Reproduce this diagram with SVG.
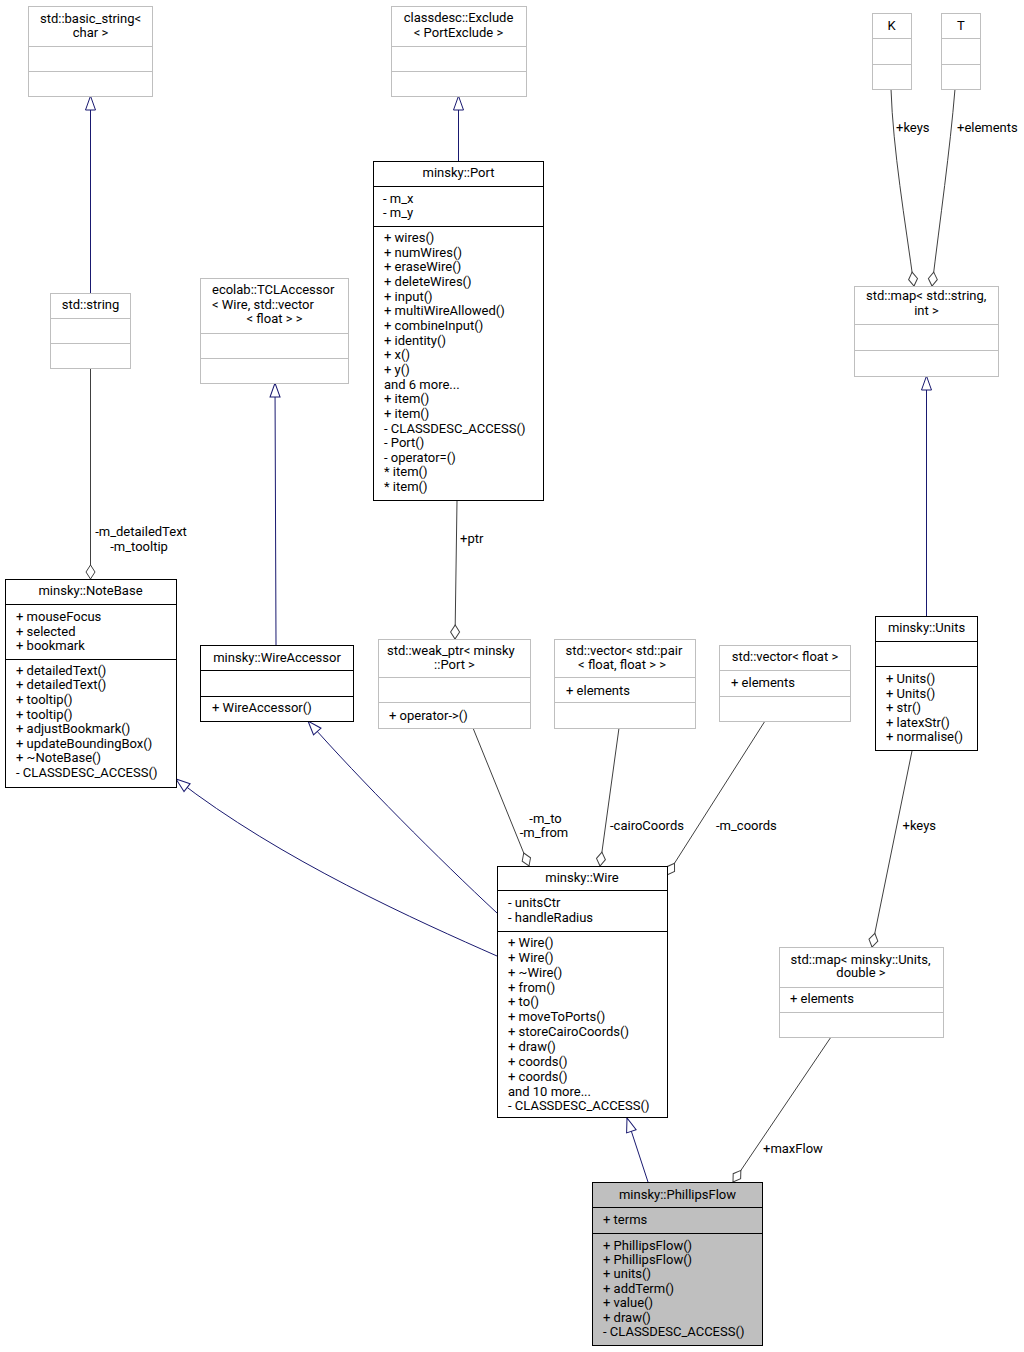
<svg xmlns="http://www.w3.org/2000/svg" width="1024" height="1352" viewBox="0 0 1024 1352">
<style>
text{font-family:Roboto,"Liberation Sans",sans-serif;font-size:13px;fill:#000}
.m{text-anchor:middle}
.g rect,.g line{fill:#fff;stroke:#bfbfbf;stroke-width:1}
.b rect,.b line{fill:#fff;stroke:#000;stroke-width:1}
.b rect.h{fill:#bfbfbf}
.inh{fill:none;stroke:#191970;stroke-width:1;marker-end:url(#tri)}
.agg{fill:none;stroke:#404040;stroke-width:1;marker-end:url(#dia)}
</style>
<defs>
<marker id="tri" markerUnits="userSpaceOnUse" markerWidth="16" markerHeight="11" refX="15" refY="5" orient="auto" overflow="visible"><path d="M1,0 L15,5 L1,10 Z" fill="#fff" stroke="#191970" stroke-width="1"/></marker>
<marker id="dia" markerUnits="userSpaceOnUse" markerWidth="16" markerHeight="11" refX="15" refY="5" orient="auto" overflow="visible"><path d="M1,5 L8,0.5 L15,5 L8,9.5 Z" fill="#fff" stroke="#404040" stroke-width="1"/></marker>
</defs>
<rect width="1024" height="1352" fill="#fff"/>
<g id="connectors">
<path class="inh" d="M90.5,293 L90.5,96"/>
<path class="inh" d="M458.5,161 L458.5,96"/>
<path class="inh" d="M276,645 L275,383"/>
<path class="inh" d="M926.5,616 L926.5,376"/>
<path class="inh" d="M497,956 C420,922 280,860 176,779"/>
<path class="inh" d="M497,913 C440,860 360,780 308,721"/>
<path class="inh" d="M648,1182 L627,1118"/>
<path class="agg" d="M90.5,368 L90.5,579"/>
<path class="agg" d="M457,501 L455,639"/>
<path class="agg" d="M891,89 C893,150 905,220 914,286"/>
<path class="agg" d="M955,89 C950,150 940,220 932,286"/>
<path class="agg" d="M473,728 L529,866"/>
<path class="agg" d="M619,728 L600,866"/>
<path class="agg" d="M765,721 L667,875"/>
<path class="agg" d="M912,751 L872,947"/>
<path class="agg" d="M831,1037 L733,1182"/>
<text class="m" x="141" y="536">-m_detailedText</text>
<text class="m" x="139" y="551">-m_tooltip</text>
<text x="460" y="542.5">+ptr</text>
<text x="896" y="132">+keys</text>
<text x="957" y="132">+elements</text>
<text class="m" x="545.5" y="822.5">-m_to</text>
<text class="m" x="544" y="836.5">-m_from</text>
<text x="610" y="829.5">-cairoCoords</text>
<text x="716" y="829.5">-m_coords</text>
<text x="902.5" y="830">+keys</text>
<text x="763" y="1152.5">+maxFlow</text>
</g>
<g id="basic_string" class="g">
<rect x="28.5" y="6.5" width="124" height="90"/>
<line x1="28.5" y1="46.5" x2="152.5" y2="46.5"/><line x1="28.5" y1="71.5" x2="152.5" y2="71.5"/>
<text class="m" x="90.5" y="22.5">std::basic_string&lt;</text>
<text class="m" x="90.5" y="36.5">char &gt;</text>
</g>
<g id="std_string" class="g">
<rect x="50.5" y="293.5" width="80" height="75"/>
<line x1="50.5" y1="318.5" x2="130.5" y2="318.5"/><line x1="50.5" y1="343.5" x2="130.5" y2="343.5"/>
<text class="m" x="90.5" y="308.5">std::string</text>
</g>
<g id="TCLAccessor" class="g">
<rect x="200.5" y="278.5" width="148" height="105"/>
<line x1="200.5" y1="333.5" x2="348.5" y2="333.5"/><line x1="200.5" y1="358.5" x2="348.5" y2="358.5"/>
<text x="212" y="294">ecolab::TCLAccessor</text>
<text x="212" y="308.5">&lt; Wire, std::vector</text>
<text class="m" x="274.5" y="323">&lt; float &gt; &gt;</text>
</g>
<g id="Exclude" class="g">
<rect x="391.5" y="6.5" width="135" height="90"/>
<line x1="391.5" y1="46.5" x2="526.5" y2="46.5"/><line x1="391.5" y1="71.5" x2="526.5" y2="71.5"/>
<text class="m" x="458.5" y="22">classdesc::Exclude</text>
<text class="m" x="458.5" y="36.5">&lt; PortExclude &gt;</text>
</g>
<g id="Port" class="b">
<rect x="373.5" y="161.5" width="170" height="339"/>
<line x1="373.5" y1="186.5" x2="543.5" y2="186.5"/><line x1="373.5" y1="226.5" x2="543.5" y2="226.5"/>
<text class="m" x="458.5" y="177">minsky::Port</text>
<text x="383" y="202.5">- m_x</text>
<text x="383" y="217">- m_y</text>
<text x="384" y="242">+ wires()</text>
<text x="384" y="256.6">+ numWires()</text>
<text x="384" y="271.3">+ eraseWire()</text>
<text x="384" y="286">+ deleteWires()</text>
<text x="384" y="300.6">+ input()</text>
<text x="384" y="315.2">+ multiWireAllowed()</text>
<text x="384" y="329.9">+ combineInput()</text>
<text x="384" y="344.5">+ identity()</text>
<text x="384" y="359.2">+ x()</text>
<text x="384" y="373.9">+ y()</text>
<text x="384" y="388.5">and 6 more...</text>
<text x="384" y="403.2">+ item()</text>
<text x="384" y="417.8">+ item()</text>
<text x="384" y="432.5">- CLASSDESC_ACCESS()</text>
<text x="384" y="447.1">- Port()</text>
<text x="384" y="461.8">- operator=()</text>
<text x="384" y="476.4">* item()</text>
<text x="384" y="491">* item()</text>
</g>
<g id="K" class="g">
<rect x="872.5" y="13.5" width="39" height="76"/>
<line x1="872.5" y1="38.5" x2="911.5" y2="38.5"/><line x1="872.5" y1="64.5" x2="911.5" y2="64.5"/>
<text class="m" x="891.5" y="29.5">K</text>
</g>
<g id="T" class="g">
<rect x="941.5" y="13.5" width="39" height="76"/>
<line x1="941.5" y1="38.5" x2="980.5" y2="38.5"/><line x1="941.5" y1="64.5" x2="980.5" y2="64.5"/>
<text class="m" x="961" y="29.5">T</text>
</g>
<g id="map_string_int" class="g">
<rect x="854.5" y="286.5" width="144" height="90"/>
<line x1="854.5" y1="324.5" x2="998.5" y2="324.5"/><line x1="854.5" y1="350.5" x2="998.5" y2="350.5"/>
<text x="866" y="300">std::map&lt; std::string,</text>
<text class="m" x="926.5" y="314.5">int &gt;</text>
</g>
<g id="NoteBase" class="b">
<rect x="5.5" y="579.5" width="171" height="208"/>
<line x1="5.5" y1="604.5" x2="176.5" y2="604.5"/><line x1="5.5" y1="659.5" x2="176.5" y2="659.5"/>
<text class="m" x="90.5" y="595">minsky::NoteBase</text>
<text x="16" y="621">+ mouseFocus</text>
<text x="16" y="635.5">+ selected</text>
<text x="16" y="650">+ bookmark</text>
<text x="16" y="674.5">+ detailedText()</text>
<text x="16" y="689.2">+ detailedText()</text>
<text x="16" y="703.8">+ tooltip()</text>
<text x="16" y="718.5">+ tooltip()</text>
<text x="16" y="733.1">+ adjustBookmark()</text>
<text x="16" y="747.8">+ updateBoundingBox()</text>
<text x="16" y="762.4">+ ~NoteBase()</text>
<text x="16" y="777">- CLASSDESC_ACCESS()</text>
</g>
<g id="WireAccessor" class="b">
<rect x="200.5" y="645.5" width="153" height="76"/>
<line x1="200.5" y1="670.5" x2="353.5" y2="670.5"/><line x1="200.5" y1="696.5" x2="353.5" y2="696.5"/>
<text class="m" x="277" y="662">minsky::WireAccessor</text>
<text x="212" y="712">+ WireAccessor()</text>
</g>
<g id="weak_ptr" class="g">
<rect x="378.5" y="639.5" width="152" height="89"/>
<line x1="378.5" y1="677.5" x2="530.5" y2="677.5"/><line x1="378.5" y1="702.5" x2="530.5" y2="702.5"/>
<text x="387" y="654.5">std::weak_ptr&lt; minsky</text>
<text class="m" x="454.5" y="669">::Port &gt;</text>
<text x="389" y="719.5">+ operator-&gt;()</text>
</g>
<g id="vector_pair" class="g">
<rect x="554.5" y="639.5" width="141" height="89"/>
<line x1="554.5" y1="677.5" x2="695.5" y2="677.5"/><line x1="554.5" y1="702.5" x2="695.5" y2="702.5"/>
<text x="565.5" y="654.5">std::vector&lt; std::pair</text>
<text class="m" x="622" y="669">&lt; float, float &gt; &gt;</text>
<text x="566" y="694.5">+ elements</text>
</g>
<g id="vector_float" class="g">
<rect x="719.5" y="645.5" width="131" height="76"/>
<line x1="719.5" y1="670.5" x2="850.5" y2="670.5"/><line x1="719.5" y1="696.5" x2="850.5" y2="696.5"/>
<text class="m" x="785" y="661">std::vector&lt; float &gt;</text>
<text x="731" y="687">+ elements</text>
</g>
<g id="Units" class="b">
<rect x="875.5" y="616.5" width="102" height="134"/>
<line x1="875.5" y1="641.5" x2="977.5" y2="641.5"/><line x1="875.5" y1="666.5" x2="977.5" y2="666.5"/>
<text class="m" x="926.5" y="632">minsky::Units</text>
<text x="886" y="683">+ Units()</text>
<text x="886" y="697.5">+ Units()</text>
<text x="886" y="712">+ str()</text>
<text x="886" y="726.5">+ latexStr()</text>
<text x="886" y="741">+ normalise()</text>
</g>
<g id="map_units_double" class="g">
<rect x="779.5" y="947.5" width="164" height="90"/>
<line x1="779.5" y1="987.5" x2="943.5" y2="987.5"/><line x1="779.5" y1="1012.5" x2="943.5" y2="1012.5"/>
<text x="790.5" y="963.5">std::map&lt; minsky::Units,</text>
<text class="m" x="861" y="977">double &gt;</text>
<text x="790" y="1003">+ elements</text>
</g>
<g id="Wire" class="b">
<rect x="497.5" y="866.5" width="170" height="251"/>
<line x1="497.5" y1="890.5" x2="667.5" y2="890.5"/><line x1="497.5" y1="931.5" x2="667.5" y2="931.5"/>
<text class="m" x="582" y="882">minsky::Wire</text>
<text x="508" y="907">- unitsCtr</text>
<text x="508" y="922">- handleRadius</text>
<text x="508" y="947">+ Wire()</text>
<text x="508" y="961.9">+ Wire()</text>
<text x="508" y="976.7">+ ~Wire()</text>
<text x="508" y="991.6">+ from()</text>
<text x="508" y="1006.4">+ to()</text>
<text x="508" y="1021.3">+ moveToPorts()</text>
<text x="508" y="1036.1">+ storeCairoCoords()</text>
<text x="508" y="1051">+ draw()</text>
<text x="508" y="1065.8">+ coords()</text>
<text x="508" y="1080.7">+ coords()</text>
<text x="508" y="1095.5">and 10 more...</text>
<text x="508" y="1110.4">- CLASSDESC_ACCESS()</text>
</g>
<g id="PhillipsFlow" class="b">
<rect class="h" x="592.5" y="1182.5" width="170" height="163"/>
<line x1="592.5" y1="1207.5" x2="762.5" y2="1207.5"/><line x1="592.5" y1="1233.5" x2="762.5" y2="1233.5"/>
<text class="m" x="677.5" y="1199">minsky::PhillipsFlow</text>
<text x="603" y="1223.5">+ terms</text>
<text x="603" y="1249.5">+ PhillipsFlow()</text>
<text x="603" y="1264">+ PhillipsFlow()</text>
<text x="603" y="1278.4">+ units()</text>
<text x="603" y="1292.9">+ addTerm()</text>
<text x="603" y="1307.3">+ value()</text>
<text x="603" y="1321.8">+ draw()</text>
<text x="603" y="1336.2">- CLASSDESC_ACCESS()</text>
</g>
</svg>
